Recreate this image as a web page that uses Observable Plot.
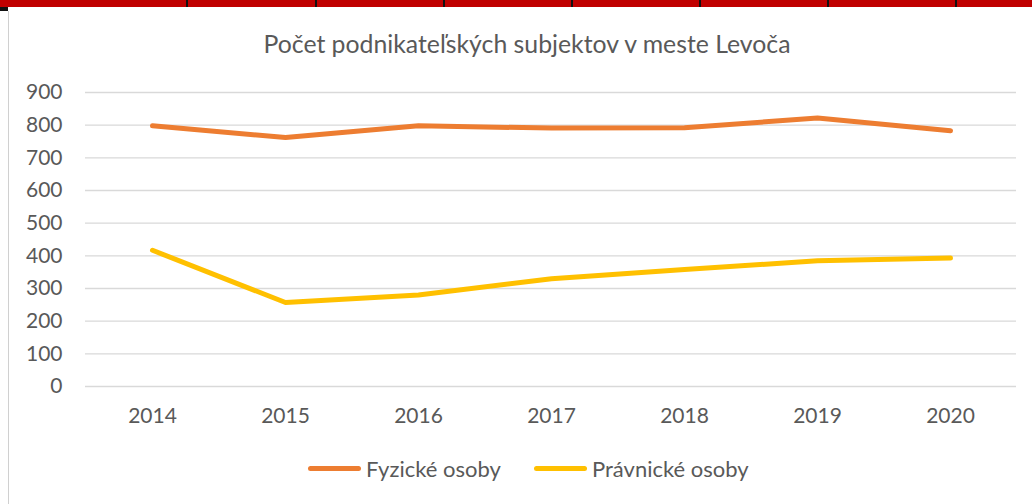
<!DOCTYPE html>
<html>
<head>
<meta charset="utf-8">
<script src="https://cdn.jsdelivr.net/npm/d3@7"></script>
<script src="https://cdn.jsdelivr.net/npm/@observablehq/plot@0.6"></script>
<style>
  html, body { margin: 0; padding: 0; background: #fff; }
  #wrap { position: relative; width: 1032px; height: 504px; overflow: hidden; font-family: Lato, "Open Sans", sans-serif; color: #595959; }
  #redbar { position: absolute; left: 0; top: 0; width: 1032px; height: 7px; background: #C00000; }
  .sep { position: absolute; top: 0; width: 2px; height: 7px; background: #111; }
  #corner { position: absolute; left: 0; top: 7px; width: 8px; height: 4px; background: #111; }
  #leftborder { position: absolute; left: 8px; top: 11px; width: 1px; height: 493px; background: #d0d0d0; }
  #title { position: absolute; left: 0; width: 1054px; top: 29px; text-align: center; font-size: 24.8px; color: #595959; }
  #chart { position: absolute; left: 0; top: 0; }
  #legend { position: absolute; top: 455px; left: 0; width: 1032px; height: 28px; }
  .item { position: absolute; top: 0; display: flex; align-items: center; font-size: 22px; color: #595959; white-space: nowrap; }
  .sw { width: 53px; height: 5px; border-radius: 3px; margin-right: 5px; }
</style>
</head>
<body>
<div id="wrap">
  <div id="redbar"></div>
  <div id="corner"></div>
  <div id="leftborder"></div>
  <div id="title">Počet podnikateľských subjektov v meste Levoča</div>
  <div id="chart"></div>
  <div id="legend"></div>
</div>
<script>
const years = ["2014", "2015", "2016", "2017", "2018", "2019", "2020"];
const fyzicke = [798, 762, 798, 791, 792, 822, 783];
const pravnicke = [417, 257, 280, 330, 358, 385, 393];
const seriesNames = ["Fyzické osoby", "Právnické osoby"];
const seriesColors = ["#ED7D31", "#FFC000"];
const yTicks = [0, 100, 200, 300, 400, 500, 600, 700, 800, 900];

// decorative table separators above the chart
const wrap = document.getElementById("wrap");
[186, 315, 443, 571, 699, 827, 955].forEach(x => {
  const d = document.createElement("div");
  d.className = "sep";
  d.style.left = x + "px";
  wrap.appendChild(d);
});

const data = [];
years.forEach((y, i) => {
  data.push({year: y, value: fyzicke[i], series: seriesNames[0]});
  data.push({year: y, value: pravnicke[i], series: seriesNames[1]});
});

const chart = Plot.plot({
  width: 1032,
  height: 440,
  marginLeft: 85,
  marginRight: 16,
  marginTop: 92,
  marginBottom: 54,
  style: {fontFamily: "Lato, 'Open Sans', sans-serif", fontSize: "21px", color: "#595959", background: "transparent"},
  x: {type: "point", domain: years, padding: 0.5, label: null},
  y: {domain: [0, 900], label: null},
  color: {domain: seriesNames, range: seriesColors},
  marks: [
    Plot.ruleY(yTicks, {stroke: "#D9D9D9", strokeWidth: 1.4}),
    Plot.axisY(yTicks, {tickSize: 0, tickPadding: 23, fill: "#595959", fontSize: 21, label: null}),
    Plot.axisX(years, {tickSize: 0, tickPadding: 22, fill: "#595959", fontSize: 21, label: null}),
    Plot.line(data, {x: "year", y: "value", z: "series", stroke: "series", strokeWidth: 5, strokeLinecap: "round", strokeLinejoin: "round"})
  ]
});
document.getElementById("chart").appendChild(chart);

// legend
const legend = document.getElementById("legend");
const lefts = [308, 534];
seriesNames.forEach((name, i) => {
  const it = document.createElement("div");
  it.className = "item";
  it.style.left = lefts[i] + "px";
  it.innerHTML = `<div class="sw" style="background:${seriesColors[i]}"></div><span>${name}</span>`;
  legend.appendChild(it);
});
</script>
</body>
</html>
